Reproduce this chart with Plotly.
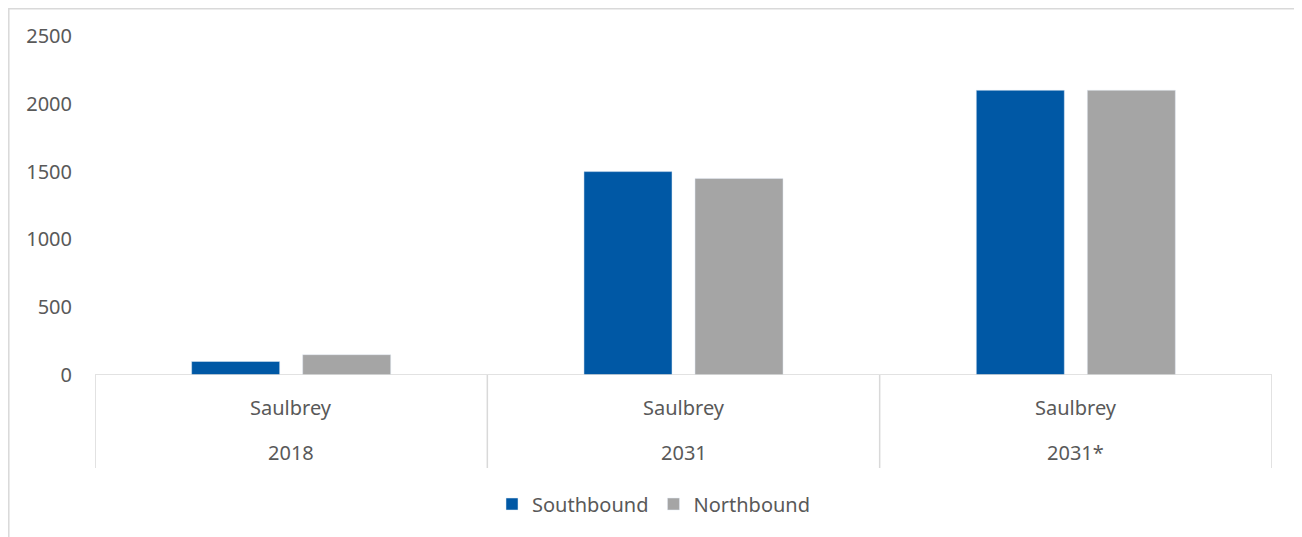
import plotly.graph_objects as go

categories = ["2018", "2031", "2031*"]
group_label = "Saulbrey"
southbound = [100, 1500, 2100]
northbound = [150, 1450, 2100]
y_ticks = [0, 500, 1000, 1500, 2000, 2500]

OFF = 8  # default page body margin
W, H = 1302 - OFF, 537 - OFF
L, R, T, B = 95 - OFF, 1272 - OFF, 36 - OFF, 375 - OFF
pw, ph = R - L, B - T

def py(pix):
    return (B - (pix - OFF)) / ph

def px(pix):
    return ((pix - OFF) - L) / pw

font = "Noto Sans"
txt = "#595959"
line_c = "#D9D9D9"

fig = go.Figure()
fig.add_trace(go.Bar(name="Southbound", x=categories, y=southbound, marker_color="#0058A5"))
fig.add_trace(go.Bar(name="Northbound", x=categories, y=northbound, marker_color="#A5A5A5"))

shapes = []
# axis baseline
shapes.append(dict(type="line", xref="paper", yref="y", x0=0, x1=1, y0=0, y1=0,
                   line=dict(color=line_c, width=1.5)))
# category dividers
for i in range(len(categories) + 1):
    shapes.append(dict(type="line", xref="x", yref="paper", x0=i - 0.5, x1=i - 0.5,
                       y0=0, y1=py(468), line=dict(color=line_c, width=1.5)))
# outer chart border
shapes.append(dict(type="rect", xref="paper", yref="paper", x0=px(8.8), x1=px(1300),
                   y0=py(560), y1=py(8.8), line=dict(color=line_c, width=1.5),
                   fillcolor="rgba(0,0,0,0)", layer="below"))

annotations = []
for i, c in enumerate(categories):
    annotations.append(dict(x=i, xref="x", y=py(407), yref="paper", text=group_label,
                            showarrow=False, font=dict(family=font, size=20, color=txt),
                            xanchor="center", yanchor="middle"))
    annotations.append(dict(x=i, xref="x", y=py(452), yref="paper", text=c,
                            showarrow=False, font=dict(family=font, size=20, color=txt),
                            xanchor="center", yanchor="middle"))

fig.update_layout(
    width=W, height=H,
    margin=dict(l=L, r=W - R, t=T, b=H - B, autoexpand=False),
    paper_bgcolor="white", plot_bgcolor="white",
    barmode="group", bargap=0.434, bargroupgap=0.207,
    font=dict(family=font, size=20, color=txt),
    xaxis=dict(type="category", showticklabels=False, showgrid=False, zeroline=False,
               showline=False, ticks="", range=[-0.5, 2.5]),
    yaxis=dict(range=[0, 2500], tickvals=y_ticks, showgrid=False, zeroline=False,
               showline=False, ticks="", ticklabelstandoff=22,
               tickfont=dict(family=font, size=20, color=txt)),
    showlegend=True,
    legend=dict(orientation="h", x=px(654), xanchor="center", y=py(504), yanchor="middle",
                font=dict(family=font, size=20, color=txt), itemwidth=30,
                bgcolor="rgba(0,0,0,0)"),
    shapes=shapes, annotations=annotations,
)

fig.write_html("out.html")
